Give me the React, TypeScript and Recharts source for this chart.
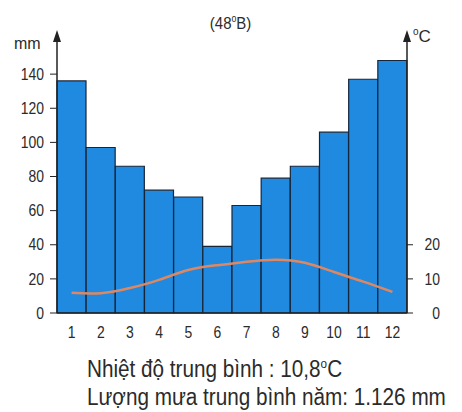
import React from "react";
import { ComposedChart, Bar, Line, XAxis, YAxis } from "recharts";

// Monthly climate data
const months = ["1", "2", "3", "4", "5", "6", "7", "8", "9", "10", "11", "12"];
const rainfall = [136, 97, 86, 72, 68, 39, 63, 79, 86, 106, 137, 148];
const temperature = [5.9, 5.8, 7.3, 9.7, 12.6, 14, 15, 15.6, 14.7, 12, 9.2, 6.2];
const rainTicks = [0, 20, 40, 60, 80, 100, 120, 140];
const tempTicks = [0, 10, 20];

const data = months.map((m, i) => ({
  month: m,
  rain: rainfall[i],
  temp: temperature[i],
}));

const font = "Arial, 'Liberation Sans', sans-serif";
const ink = "#2b2b2b";

// condensed tick text, the print uses a narrow sans
function makeTick(fontSize: number, dy: string, anchor?: string) {
  return (props: any) => {
    const { x, y, payload, textAnchor } = props;
    return (
      <g transform={`translate(${x},${y})`}>
        <text
          transform="scale(0.87,1)"
          textAnchor={anchor || textAnchor}
          dy={dy}
          fill={ink}
          fontSize={fontSize}
          fontFamily={font}
        >
          {payload.value}
        </text>
      </g>
    );
  };
}

export default function App() {
  return (
    <div style={{ position: "absolute", left: 0, top: 0, width: 462, height: 412, background: "#fff", fontFamily: font, color: ink }}>
      <svg width="0" height="0" style={{ position: "absolute" }}>
        <defs>
          <marker id="arrowUp" markerWidth="8" markerHeight="12" refX="4" refY="10" markerUnits="userSpaceOnUse" orient="0">
            <path d="M0,12 L4,0 L8,12 Z" fill="#222" />
          </marker>
        </defs>
      </svg>
      <div style={{ position: "absolute", left: 0, width: 462, top: 13, textAlign: "center", fontSize: 17 }}>
        <span style={{ display: "inline-block", transform: "scaleX(0.88)" }}>
          (48<sup style={{ fontSize: 10 }}>o</sup>B)
        </span>
      </div>
      <div style={{ position: "absolute", left: 14, top: 35, fontSize: 16 }}>mm</div>
      <div style={{ position: "absolute", left: 413, top: 26, fontSize: 17 }}>
        <sup style={{ fontSize: 10 }}>o</sup>C
      </div>
      <ComposedChart
        width={462}
        height={343}
        data={data}
        margin={{ top: 40, right: 0, bottom: 0, left: 0 }}
        barCategoryGap={0}
        barGap={0}
      >
        <XAxis
          dataKey="month"
          tickLine={false}
          axisLine={{ stroke: "#222", strokeWidth: 1.5 }}
          tick={makeTick(16, "0.71em")}
          height={30}
          tickMargin={8}
          interval={0}
        />
        <YAxis
          yAxisId="rain"
          orientation="left"
          width={57}
          domain={[0, 160]}
          ticks={rainTicks}
          tick={makeTick(16, "0.355em", "end")}
          tickSize={7}
          tickMargin={6}
          tickLine={{ stroke: "#222" }}
          axisLine={{ stroke: "#222", strokeWidth: 1.5, markerStart: "url(#arrowUp)" }}
          interval={0}
        />
        <YAxis
          yAxisId="temp"
          orientation="right"
          width={55}
          domain={[0, 80]}
          ticks={tempTicks}
          tick={makeTick(16, "0.355em", "end")}
          tickSize={6}
          tickMargin={27}
          tickLine={{ stroke: "#222" }}
          axisLine={{ stroke: "#222", strokeWidth: 1.5, markerStart: "url(#arrowUp)" }}
          interval={0}
        />
        <Bar
          yAxisId="rain"
          dataKey="rain"
          fill="#1f8ae0"
          stroke="#16263a"
          strokeWidth={1.2}
          isAnimationActive={false}
        />
        <Line
          yAxisId="temp"
          dataKey="temp"
          type="natural"
          stroke="#dd8862"
          strokeWidth={2.5}
          dot={false}
          isAnimationActive={false}
        />
      </ComposedChart>
      <div style={{ position: "absolute", left: 87, top: 356, fontSize: 23, whiteSpace: "nowrap", transform: "scaleX(0.9)", transformOrigin: "left top" }}>
        Nhiệt độ trung bình : 10,8<sup style={{ fontSize: 13 }}>o</sup>C
      </div>
      <div style={{ position: "absolute", left: 87, top: 384, fontSize: 23, whiteSpace: "nowrap", transform: "scaleX(0.9)", transformOrigin: "left top" }}>
        Lượng mưa trung bình năm: 1.126 mm
      </div>
    </div>
  );
}
